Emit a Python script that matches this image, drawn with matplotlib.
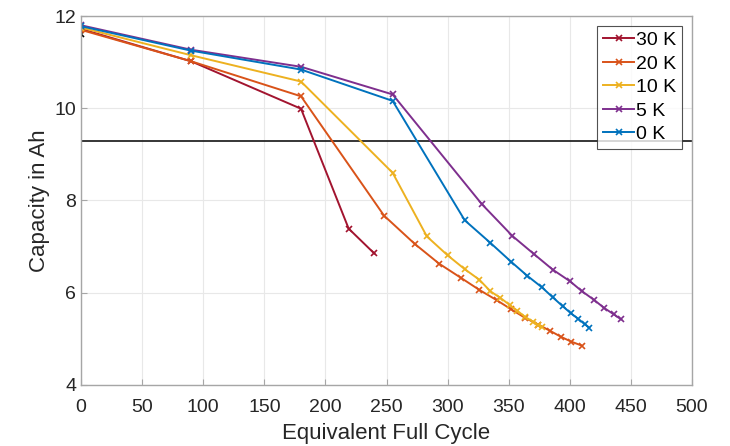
import matplotlib
matplotlib.use("Agg")
import matplotlib.pyplot as plt

plt.rcParams['font.family'] = ['Liberation Sans', 'DejaVu Sans']

labels = ["30 K", "20 K", "10 K", "5 K", "0 K"]
colors = ["#A2142F", "#D95319", "#EDB120", "#7E2F8E", "#0072BD"]

efc_30 = [0, 90, 180, 219, 240]
cap_30 = [11.72, 11.02, 9.99, 7.39, 6.85]

efc_20 = [0, 90, 180, 248, 273, 293, 311, 326, 340, 352, 363, 374, 384, 393, 401, 410]
cap_20 = [11.70, 11.02, 10.26, 7.67, 7.06, 6.63, 6.32, 6.06, 5.84, 5.64, 5.46, 5.31, 5.17, 5.04, 4.94, 4.85]

efc_10 = [0, 90, 180, 255, 283, 300, 314, 326, 335, 343, 351, 357, 363, 370, 374, 377]
cap_10 = [11.75, 11.15, 10.58, 8.60, 7.22, 6.81, 6.51, 6.28, 6.03, 5.89, 5.73, 5.61, 5.48, 5.37, 5.30, 5.25]

efc_5 = [0, 90, 180, 255, 328, 353, 371, 386, 400, 410, 420, 428, 436, 442]
cap_5 = [11.80, 11.27, 10.90, 10.30, 7.92, 7.23, 6.83, 6.50, 6.25, 6.03, 5.84, 5.67, 5.53, 5.42]

efc_0 = [0, 90, 180, 255, 314, 335, 352, 365, 377, 386, 394, 401, 407, 412, 416]
cap_0 = [11.78, 11.25, 10.84, 10.16, 7.57, 7.08, 6.67, 6.37, 6.12, 5.90, 5.71, 5.55, 5.43, 5.32, 5.24]

eol_cap = 9.28
initial_efc = [0]
initial_cap = [11.6]

series = [(efc_30, cap_30), (efc_20, cap_20), (efc_10, cap_10), (efc_5, cap_5), (efc_0, cap_0)]

fig = plt.figure(figsize=(7.30, 4.46), dpi=100)
ax = fig.add_axes([0.111, 0.137, 0.837, 0.827])

ax.plot(initial_efc, initial_cap, 'kx', ms=4, mew=1.2)
ax.axhline(eol_cap, color='#262626', lw=1.3)

for (x, y), lab, c in zip(series, labels, colors):
    ax.plot(x, y, '-x', color=c, lw=1.4, ms=5, mew=1.2, label=lab)

ax.set_xlim(0, 500)
ax.set_ylim(4, 12)
ax.set_xticks(range(0, 501, 50))
ax.set_yticks([4, 6, 8, 10, 12])
ax.grid(True, color='#e8e8e8', lw=0.8)
ax.set_axisbelow(True)
for s in ax.spines.values():
    s.set_color('#a6a6a6')
    s.set_linewidth(1.0)
ax.tick_params(labelsize=14, labelcolor='#262626', color='#a6a6a6', direction='in', length=4)
ax.tick_params(axis='x', pad=10)
ax.set_xlabel("Equivalent Full Cycle", fontsize=16, color='#262626', labelpad=5)
ax.set_ylabel("Capacity in Ah", fontsize=16, color='#262626', labelpad=3)

leg = ax.legend(loc='upper right', fontsize=14, frameon=True, fancybox=False,
                edgecolor='#262626', handlelength=1.6, handletextpad=0.1,
                borderpad=0.3, labelspacing=0.3, borderaxespad=0.5)
leg.get_frame().set_linewidth(0.8)

fig.savefig("out.png", dpi=100)
